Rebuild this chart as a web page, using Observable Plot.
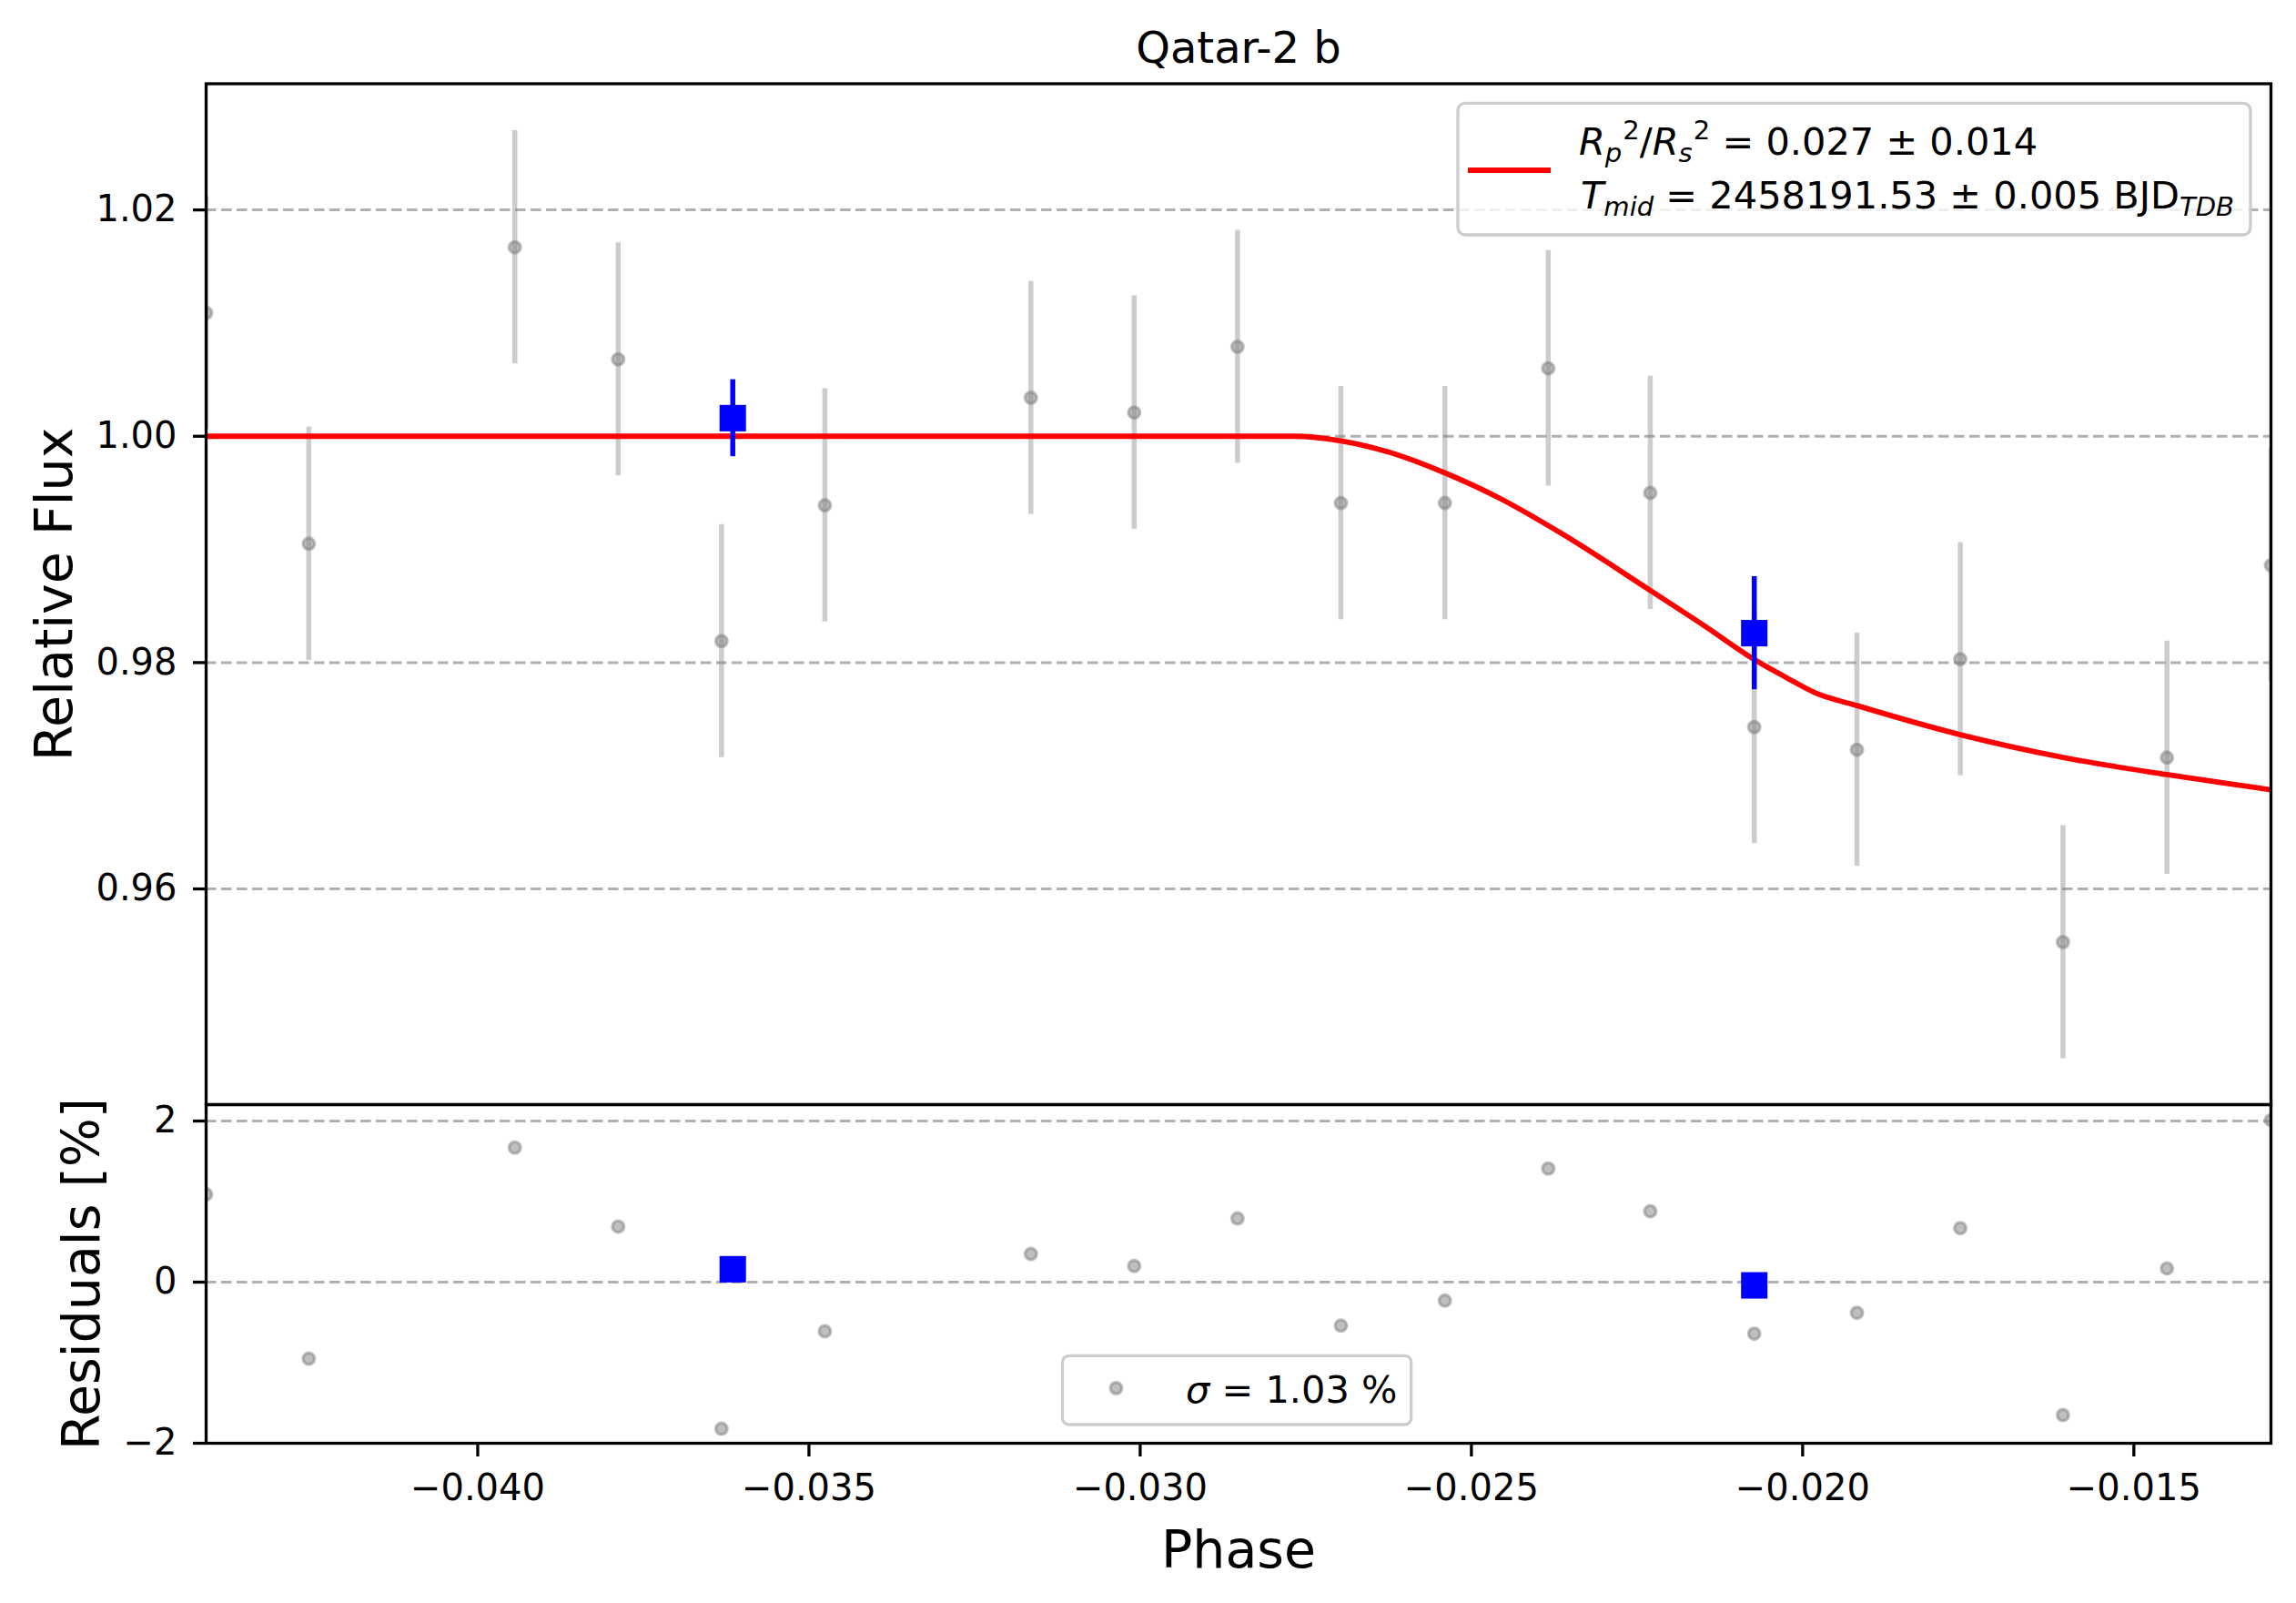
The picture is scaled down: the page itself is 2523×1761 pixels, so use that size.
<!DOCTYPE html>
<html><head><meta charset="utf-8">
<script src="https://cdn.jsdelivr.net/npm/d3@7"></script>
<script src="https://cdn.jsdelivr.net/npm/@observablehq/plot@0.6"></script>
<style>
html,body{margin:0;padding:0;background:#fff;overflow:hidden;}
#chart{position:relative;width:2523px;height:1761px;font-family:"DejaVu Sans";}
#chart > svg{position:absolute;left:0;max-width:none;}
</style></head><body><div id="chart"></div>
<script>
// ---- data ----
const phase = [-0.04410, -0.04255, -0.03944, -0.03788, -0.03632, -0.03476, -0.03165, -0.03009, -0.02853, -0.02697,
               -0.02540, -0.02384, -0.02230, -0.02073, -0.01918, -0.01762, -0.01607, -0.01450, -0.01293];
const flux = [1.0109, 0.9905, 1.0167, 1.0068, 0.9819, 0.9939, 1.0034, 1.0021, 1.0079, 0.9941,
              0.9941, 1.0060, 0.9950, 0.9743, 0.9723, 0.9803, 0.9553, 0.9716, 0.9886];
const fluxErr = [0.0103, 0.0103, 0.0103, 0.0103, 0.0103, 0.0103, 0.0103, 0.0103, 0.0103, 0.0103,
                 0.0103, 0.0104, 0.0103, 0.0103, 0.0103, 0.0103, 0.0103, 0.0103, 0.0103];
const residual = [1.09, -0.95, 1.67, 0.69, -1.82, -0.61, 0.35, 0.20, 0.79, -0.54,
                  -0.23, 1.41, 0.88, -0.64, -0.38, 0.67, -1.65, 0.17, 2.01];

const binPhase = [-0.03615, -0.02073];
const binFlux = [1.0016, 0.9826];
const binErr = [0.0034, 0.0050];
const binResidual = [0.16, -0.04];

const modelPhase = [-0.04410, -0.03000, -0.02766, -0.02697, -0.02622, -0.02540, -0.02457, -0.02368, -0.02230,
                    -0.02147, -0.02073, -0.02025, -0.01981, -0.01918, -0.01762, -0.01605, -0.01450, -0.01293];
const modelFlux = [1.0000, 1.0000, 1.0000, 0.99959, 0.99855, 0.99676, 0.99451, 0.99155, 0.98638,
                   0.98320, 0.98027, 0.97869, 0.97733, 0.97620, 0.97363, 0.97160, 0.97010, 0.96876];

const xTicks = [-0.040, -0.035, -0.030, -0.025, -0.020, -0.015];
const yTicksTop = [0.96, 0.98, 1.00, 1.02];
const yTicksRes = [-2, 0, 2];

const titleText = "Qatar-2 b";
const yLabelTop = "Relative Flux";
const yLabelRes = "Residuals [%]";
const xLabel = "Phase";

// ---- tables built from arrays ----
const pts = phase.map((p, i) => ({phase: p, flux: flux[i], err: fluxErr[i], res: residual[i]}));
const bins = binPhase.map((p, i) => ({phase: p, flux: binFlux[i], err: binErr[i], res: binResidual[i]}));
const model = modelPhase.map((p, i) => ({phase: p, flux: modelFlux[i]}));

const W = 2523, H = 1761, splitY = 1213;
const xDomain = [-0.04410, -0.01293];
const gridStyle = {stroke: "#b0b0b0", strokeWidth: 3, strokeDasharray: "11.5,5.5"};
const dotStyle = {r: 6.3, fill: "gray", fillOpacity: 0.5, stroke: "gray", strokeOpacity: 0.5, strokeWidth: 3.4, clip: true};
const tickFont = 40;
const labelFont = 57;

const topPlot = Plot.plot({
  width: W, height: splitY,
  marginLeft: 226, marginRight: 28, marginTop: 91.5, marginBottom: 0,
  style: {fontFamily: "DejaVu Sans", fontSize: "40px", background: "transparent", overflow: "visible", color: "black"},
  x: {domain: xDomain, axis: null},
  y: {domain: [0.94094, 1.03115], axis: null},
  marks: [
    Plot.ruleY(yTicksTop, gridStyle),
    Plot.ruleX(pts, {x: "phase", y1: d => d.flux - d.err, y2: d => d.flux + d.err, stroke: "gray", strokeOpacity: 0.4, strokeWidth: 5.5, clip: true}),
    Plot.dot(pts, {x: "phase", y: "flux", ...dotStyle}),
    Plot.line(model, {x: "phase", y: "flux", stroke: "red", strokeWidth: 5.8, curve: "monotone-x", clip: true}),
    Plot.ruleX(bins, {x: "phase", y1: d => d.flux - d.err, y2: d => d.flux + d.err, stroke: "blue", strokeWidth: 5.5, clip: true}),
    Plot.dot(bins, {x: "phase", y: "flux", symbol: "square", r: 16.4, fill: "blue", stroke: "none", clip: true}),
    Plot.axisY({ticks: yTicksTop, tickFormat: d3.format(".2f"), tickSize: 14, tickPadding: 18, strokeWidth: 3.3, fontSize: tickFont, label: null}),
    Plot.frame({stroke: "black", strokeWidth: 3.3}),
    Plot.text([titleText], {frameAnchor: "top", dy: -23, lineAnchor: "bottom", textAnchor: "middle", fontSize: 48}),
    Plot.text([yLabelTop], {frameAnchor: "left", dx: -148, rotate: -90, lineAnchor: "bottom", textAnchor: "middle", fontSize: labelFont})
  ]
});

const botPlot = Plot.plot({
  width: W, height: H - splitY,
  marginLeft: 226, marginRight: 28, marginTop: 0, marginBottom: 176,
  style: {fontFamily: "DejaVu Sans", fontSize: "40px", background: "transparent", overflow: "visible", color: "black"},
  x: {domain: xDomain},
  y: {domain: [-2, 2.2036]},
  marks: [
    Plot.ruleY(yTicksRes, gridStyle),
    Plot.dot(pts, {x: "phase", y: "res", ...dotStyle}),
    Plot.dot(bins, {x: "phase", y: "res", symbol: "square", r: 16.4, fill: "blue", stroke: "none", clip: true}),
    Plot.axisX({ticks: xTicks, tickFormat: d3.format(".3f"), tickSize: 15, tickPadding: 19, strokeWidth: 3.3, fontSize: tickFont, label: null}),
    Plot.axisY({ticks: yTicksRes, tickFormat: d3.format("d"), tickSize: 14, tickPadding: 18, strokeWidth: 3.3, fontSize: tickFont, label: null}),
    Plot.frame({stroke: "black", strokeWidth: 3.3}),
    Plot.text([xLabel], {frameAnchor: "bottom", dy: 136, lineAnchor: "bottom", textAnchor: "middle", fontSize: labelFont}),
    Plot.text([yLabelRes], {frameAnchor: "left", dx: -117.5, rotate: -90, lineAnchor: "bottom", textAnchor: "middle", fontSize: labelFont})
  ]
});

const chart = document.getElementById("chart");
topPlot.style.top = "0px";
botPlot.style.top = splitY + "px";
chart.appendChild(topPlot);
chart.appendChild(botPlot);

// ---- legends (overlay) ----
const overlay = d3.create("svg").attr("width", W).attr("height", H)
  .style("top", "0px").style("pointer-events", "none")
  .attr("font-family", "DejaVu Sans");
chart.appendChild(overlay.node());

// one <text> per line; sub/superscripts as tspans placed one after another
function mathLine(g, x, y, segs, size) {
  const text = g.append("text").attr("fill", "black").attr("font-size", size).style("white-space", "pre");
  let cx = x;
  for (const s of segs) {
    const fs = s.script ? size * 0.7 : size;
    const dy = s.script === "sup" ? -size * 0.40 : s.script === "sub" ? size * 0.19 : 0;
    const t = text.append("tspan").attr("x", cx + (s.kern || 0)).attr("y", y + dy).attr("font-size", fs)
      .attr("font-style", s.it ? "italic" : "normal").text(s.t);
    cx += (s.kern || 0) + t.node().getComputedTextLength();
  }
}

const legFont = 41.5;
// legend 1: model
const g1 = overlay.append("g");
g1.append("rect").attr("x", 1602).attr("y", 113.4).attr("width", 871).attr("height", 144.6).attr("rx", 8)
  .attr("fill", "white").attr("fill-opacity", 0.8).attr("stroke", "#cccccc").attr("stroke-width", 3.3);
g1.append("line").attr("x1", 1613).attr("x2", 1704).attr("y1", 187).attr("y2", 187)
  .attr("stroke", "red").attr("stroke-width", 5.8);
mathLine(g1, 1735, 170, [
  {t: "R", it: true}, {t: "p", it: true, script: "sub"}, {t: "2", script: "sup", kern: 1},
  {t: "/"}, {t: "R", it: true}, {t: "s", it: true, script: "sub"}, {t: "2", script: "sup", kern: 1},
  {t: " = 0.027 ± 0.014"}
], legFont);
mathLine(g1, 1737, 229, [
  {t: "T", it: true}, {t: "mid", it: true, script: "sub"},
  {t: " = 2458191.53 ± 0.005 BJD"}, {t: "TDB", it: true, script: "sub"}
], legFont);

// legend 2: residual scatter
const g2 = overlay.append("g");
g2.append("rect").attr("x", 1167.5).attr("y", 1489.3).attr("width", 383.2).attr("height", 75.7).attr("rx", 7)
  .attr("fill", "white").attr("fill-opacity", 0.8).attr("stroke", "#cccccc").attr("stroke-width", 3.3);
g2.append("circle").attr("cx", 1226.5).attr("cy", 1525).attr("r", 6.3)
  .attr("fill", "gray").attr("fill-opacity", 0.5).attr("stroke", "gray").attr("stroke-opacity", 0.5).attr("stroke-width", 3.4);
mathLine(g2, 1303, 1541, [{t: "σ", it: true}, {t: " = 1.03 %"}], legFont);
</script></body></html>
